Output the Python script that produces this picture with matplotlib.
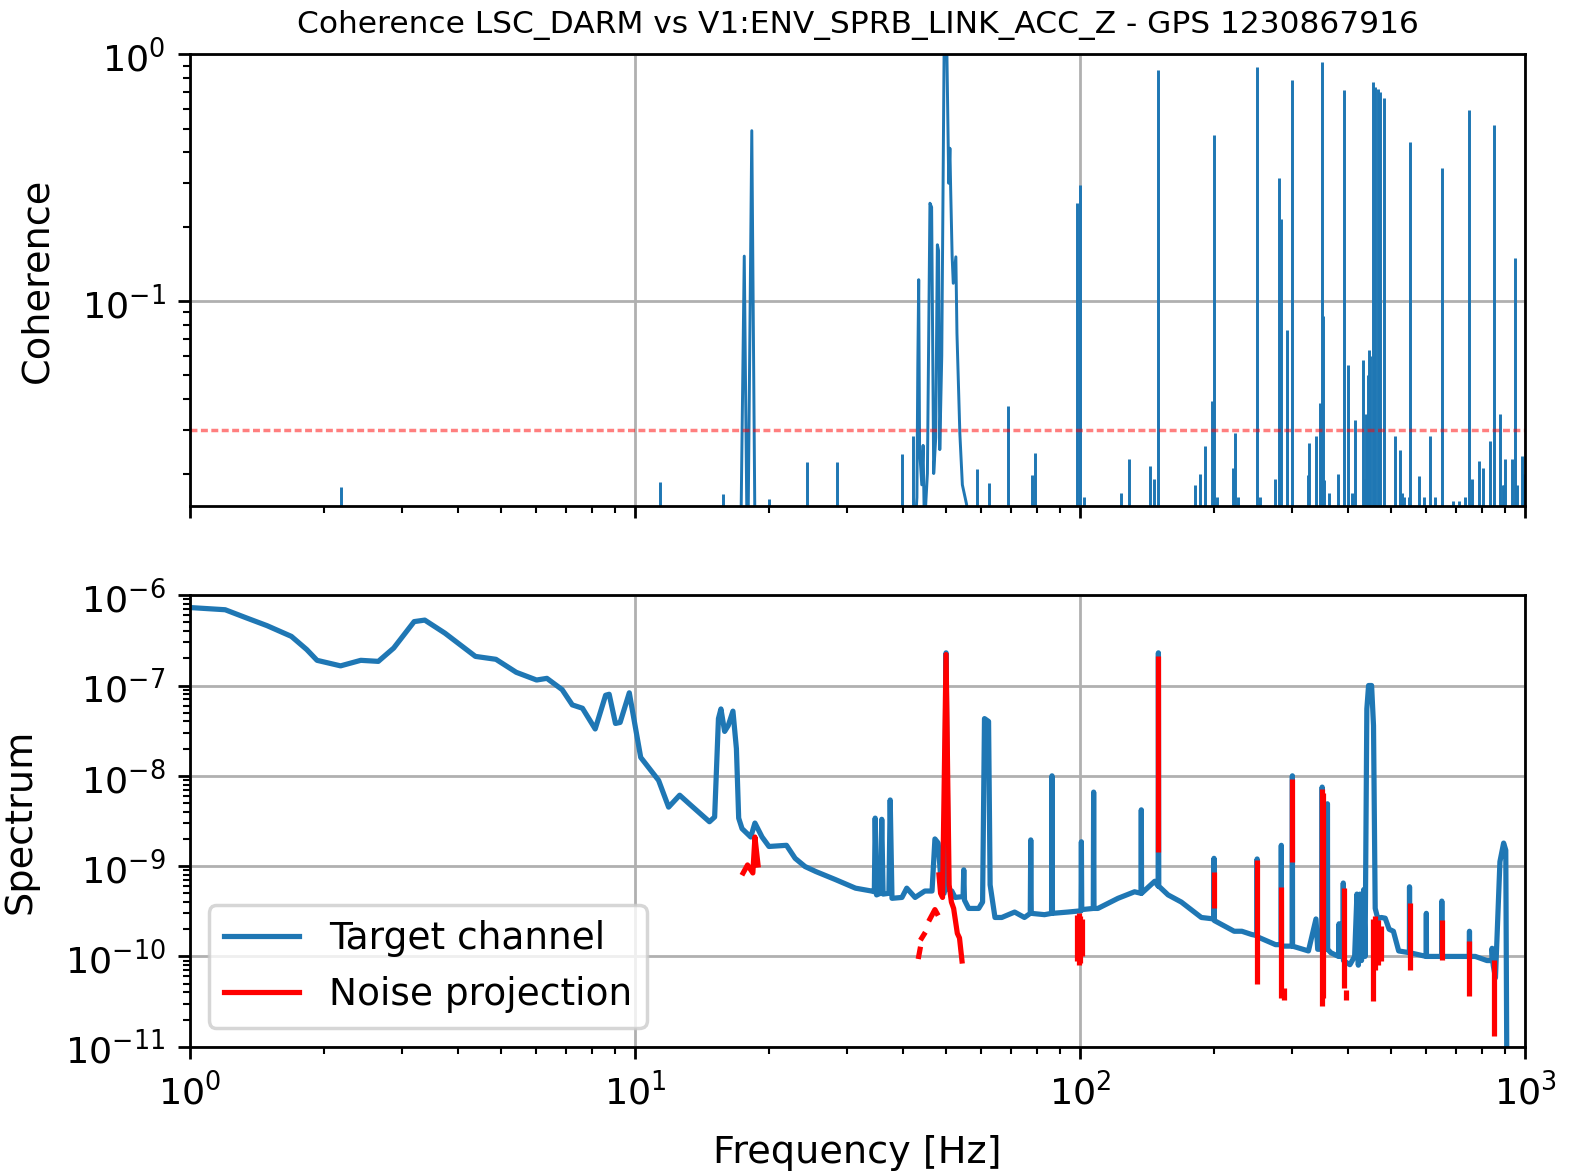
import numpy as np
import matplotlib.pyplot as plt

title = 'Coherence LSC_DARM vs V1:ENV_SPRB_LINK_ACC_Z - GPS 1230867916'
threshold = 0.03

# narrow coherence lines: frequency [Hz] and peak coherence
coh_line_freq = [2.18, 11.4, 15.8, 20.0, 24.3, 28.5, 39.8, 42.1, 58.8, 62.6,
                 68.8, 78.0, 79.3, 98.5, 100.2, 102.0, 123.8, 128.6, 143.3, 146.3,
                 150.0, 181.6, 186.3, 191.2, 198.0, 200.0, 203.0, 220.6, 223.2, 226.0,
                 250.0, 254.0, 274.7, 279.5, 282.5, 291.8, 300.0, 325.2, 326.5, 339.4,
                 346.4, 350.0, 352.0, 354.0, 362.0, 379.8, 391.0, 401.0, 408.0, 414.0,
                 431.3, 436.0, 440.0, 443.0, 446.4, 449.0, 455.5, 460.6, 467.0, 473.0,
                 481.0, 509.0, 524.0, 529.0, 535.0, 548.0, 550.0, 576.7, 594.0, 612.0,
                 628.0, 650.0, 690.0, 710.0, 734.0, 750.0, 758.0, 787.0, 805.0, 835.0,
                 850.0, 880.0, 890.0, 896.0, 903.0, 935.0, 950.0, 960.0, 985.0, 995.0]
coh_line_peak = [0.0176, 0.0184, 0.0165, 0.0158, 0.0223, 0.0223, 0.0239, 0.0283, 0.0208, 0.0183,
                 0.0375, 0.0198, 0.0243, 0.249, 0.296, 0.016, 0.0167, 0.0228, 0.0215, 0.019,
                 0.863, 0.018, 0.020, 0.0258, 0.0392, 0.471, 0.016, 0.021, 0.0292, 0.016,
                 0.89, 0.016, 0.019, 0.315, 0.215, 0.0766, 0.786, 0.0198, 0.0266, 0.0283,
                 0.0387, 0.933, 0.0866, 0.0189, 0.0167, 0.020, 0.716, 0.0552, 0.0167, 0.0331,
                 0.0577, 0.019, 0.035, 0.05, 0.0636, 0.06, 0.774, 0.74, 0.72, 0.70,
                 0.663, 0.0283, 0.025, 0.0167, 0.016, 0.016, 0.443, 0.0195, 0.016, 0.0283,
                 0.016, 0.345, 0.0155, 0.0155, 0.016, 0.594, 0.019, 0.0224, 0.021, 0.027,
                 0.517, 0.0347, 0.018, 0.018, 0.023, 0.023, 0.149, 0.018, 0.0236, 0.02]

# broader coherence features around 18 Hz and 50 Hz
coh_band_freq = [17.3, 17.6, 17.85, 17.95, 18.3, 18.6,
                 42.6, 43.0, 43.2, 43.4, 43.6, 44.1, 44.4, 44.7, 45.4, 46.0,
                 46.4, 46.9, 47.4, 47.8, 48.1, 48.4, 48.9, 49.5, 50.2, 50.7,
                 51.0, 51.2, 51.6, 51.9, 52.6, 52.9, 53.7, 54.4, 55.6, 56.2]
coh_band_val = [0.012, 0.152, 0.012, 0.012, 0.49, 0.012,
                0.012, 0.016, 0.054, 0.122, 0.025, 0.018, 0.026, 0.012, 0.02, 0.249,
                0.24, 0.02, 0.028, 0.169, 0.16, 0.025, 0.06, 1.05, 1.05, 0.3,
                0.416, 0.287, 0.151, 0.118, 0.151, 0.074, 0.029, 0.018, 0.015, 0.012]

# target channel spectrum
spec_freq = [1.00, 1.20, 1.34, 1.49, 1.69, 1.83, 1.93, 2.18, 2.42, 2.65,
             2.87, 3.19, 3.37, 3.74, 4.38, 4.87, 5.41, 6.01, 6.34, 6.86,
             7.23, 7.62, 8.14, 8.59, 8.75, 9.04, 9.26, 9.71, 10.3, 11.3,
             11.9, 12.6, 13.3, 14.7, 15.1, 15.4, 15.6, 15.9, 16.2, 16.6,
             16.9, 17.1, 17.4, 18.2, 18.6, 19.3, 20.0, 21.9, 22.9, 24.1,
             25.5, 28.2, 31.3, 34.0, 34.5, 34.65, 34.9, 35.6, 35.85, 36.1,
             37.2, 37.45, 37.8, 39.8, 40.8, 42.6, 44.8, 46.5, 47.2, 48.0,
             48.8, 49.5, 50.0, 50.6, 51.5, 52.4, 54.6, 54.8, 55.0, 56.2,
             59.2, 60.4, 61.0, 62.3, 62.8, 64.4, 66.7, 71.3, 75.0, 77.3,
             77.5, 77.7, 83.2, 86.3, 86.5, 86.7, 93.9, 100.5, 100.7, 100.9,
             107.1, 107.3, 107.5, 109.7, 121.7, 132.6, 137.1, 137.3, 137.5, 147.2,
             149.8, 150.0, 150.3, 157.7, 168.9, 187.3, 199.8, 200.0, 200.2, 222.0,
             231.0, 243.0, 249.8, 250.0, 250.3, 275.0, 283.0, 283.3, 283.6, 299.7,
             300.0, 300.3, 326.0, 339.0, 342.0, 349.7, 350.0, 350.4, 359.4, 359.7,
             360.1, 366.0, 381.0, 382.0, 383.0, 390.0, 390.4, 390.8, 404.0, 414.0,
             419.0, 422.0, 426.0, 429.0, 434.0, 437.0, 441.0, 445.0, 452.0, 456.5,
             460.5, 467.0, 475.0, 485.0, 495.0, 506.0, 520.0, 549.6, 550.0, 550.4,
             599.6, 600.0, 600.4, 649.6, 650.0, 650.4, 709.0, 749.6, 750.0, 750.4,
             773.0, 821.0, 842.0, 843.0, 848.0, 858.0, 878.0, 895.0, 905.0, 910.0]
spec_val = [7.3e-7, 6.9e-7, 5.6e-7, 4.6e-7, 3.5e-7, 2.5e-7, 1.9e-7, 1.65e-7, 1.9e-7, 1.85e-7,
            2.6e-7, 5.1e-7, 5.3e-7, 3.8e-7, 2.1e-7, 1.95e-7, 1.4e-7, 1.15e-7, 1.2e-7, 9.0e-8,
            6.1e-8, 5.6e-8, 3.3e-8, 7.8e-8, 8.0e-8, 3.8e-8, 3.9e-8, 8.3e-8, 1.6e-8, 8.9e-9,
            4.5e-9, 6.1e-9, 4.8e-9, 3.1e-9, 3.5e-9, 4.3e-8, 5.5e-8, 3.1e-8, 3.6e-8, 5.2e-8,
            2.0e-8, 3.4e-9, 2.6e-9, 2.1e-9, 3.0e-9, 2.1e-9, 1.65e-9, 1.7e-9, 1.22e-9, 9.9e-10,
            8.7e-10, 7.1e-10, 5.7e-10, 5.3e-10, 5.2e-10, 3.4e-9, 4.8e-10, 5.0e-10, 3.3e-9, 4.9e-10,
            5.0e-10, 5.4e-9, 4.4e-10, 4.5e-10, 5.7e-10, 4.5e-10, 5.3e-10, 5.3e-10, 2.0e-9, 1.8e-9,
            6.0e-10, 5.0e-10, 2.3e-7, 5.5e-10, 5.3e-10, 4.5e-10, 4.6e-10, 9.1e-10, 4.2e-10, 3.4e-10,
            3.4e-10, 4.0e-10, 4.3e-8, 4.0e-8, 6.2e-10, 2.7e-10, 2.7e-10, 3.1e-10, 2.7e-10, 3.0e-10,
            1.95e-9, 3.0e-10, 2.9e-10, 3.0e-10, 1.0e-8, 3.0e-10, 3.1e-10, 3.2e-10, 1.86e-9, 3.3e-10,
            3.4e-10, 6.6e-9, 3.4e-10, 3.4e-10, 4.4e-10, 5.2e-10, 5.0e-10, 4.2e-9, 5.0e-10, 6.8e-10,
            6.0e-10, 2.3e-7, 6.0e-10, 4.8e-10, 4.0e-10, 2.7e-10, 2.6e-10, 1.22e-9, 2.5e-10, 1.9e-10,
            1.9e-10, 1.75e-10, 1.7e-10, 1.2e-9, 1.65e-10, 1.35e-10, 1.35e-10, 1.7e-9, 1.3e-10, 1.3e-10,
            1.0e-8, 1.3e-10, 1.15e-10, 2.6e-10, 1.2e-10, 1.2e-10, 7.5e-9, 1.2e-10, 1.2e-10, 4.9e-9,
            1.2e-10, 1.1e-10, 1.0e-10, 2.3e-10, 1.0e-10, 1.0e-10, 6.5e-10, 9.0e-11, 8.1e-11, 1.0e-10,
            4.9e-10, 8.0e-11, 4.9e-10, 9.0e-11, 5.5e-10, 1.0e-10, 5.5e-8, 1.0e-7, 1.0e-7, 3.6e-8,
            3.4e-10, 2.6e-10, 2.7e-10, 2.65e-10, 2.0e-10, 1.9e-10, 1.15e-10, 1.1e-10, 5.9e-10, 1.1e-10,
            1.0e-10, 3.0e-10, 1.0e-10, 1.0e-10, 4.1e-10, 1.0e-10, 1.0e-10, 1.0e-10, 1.9e-10, 1.0e-10,
            1.0e-10, 9.0e-11, 9.0e-11, 1.23e-10, 8.0e-11, 5.8e-11, 1.12e-9, 1.8e-9, 1.5e-9, 5.0e-12]

# noise projection around 18 Hz and 50 Hz (nan = gap in the estimate)
proj_freq = [17.5, 17.9, 18.4, 18.6, 18.9, np.nan,
             43.4, 43.7, np.nan, 44.1, 44.6, np.nan, 46.0, 47.2, 47.7, np.nan,
             48.2, 48.6, 49.1, 50.0, 50.8, 51.4, 52.0, 53.0, 53.6, 54.3]
proj_val = [8.4e-10, 1.03e-9, 8.4e-10, 2.1e-9, 1.03e-9, np.nan,
            1.0e-10, 1.2e-10, np.nan, 1.6e-10, 1.75e-10, np.nan, 2.6e-10, 3.3e-10, 3.0e-10, np.nan,
            8.0e-10, 5.0e-10, 4.5e-10, 2.2e-7, 6.2e-10, 4.0e-10, 3.4e-10, 1.8e-10, 1.6e-10, 8.9e-11]

# noise projection on the narrow lines: frequency, lower and upper value
proj_line_freq = [98.5, 99.3, 100.0, 100.8, 150.0, 200.0, 250.0, 283.0, 287.0, 300.0,
                  349.0, 351.0, 391.0, 395.0, 456.0, 461.0, 467.0, 474.0, 550.0, 650.0,
                  750.0, 850.0]
proj_line_lo = [9.0e-11, 8.1e-11, 8.5e-11, 1.0e-10, 1.45e-9, 3.4e-10, 4.9e-11, 3.5e-11, 3.3e-11, 1.12e-9,
                2.8e-11, 3.5e-11, 4.5e-11, 3.3e-11, 3.2e-11, 7.0e-11, 8.0e-11, 9.0e-11, 7.1e-11, 9.1e-11,
                3.6e-11, 1.3e-11]
proj_line_hi = [2.9e-10, 3.0e-10, 2.8e-10, 2.6e-10, 2.1e-7, 8.7e-10, 1.17e-9, 5.9e-10, 4.5e-11, 9.3e-9,
                7.2e-9, 6.5e-9, 5.7e-10, 4.3e-11, 2.6e-10, 2.8e-10, 2.5e-10, 2.2e-10, 3.9e-10, 2.5e-10,
                1.5e-10, 9.1e-11]

blue = '#1f77b4'

fig, (ax1, ax2) = plt.subplots(2, 1, sharex=True, figsize=(6.3, 4.696), dpi=250)
fig.subplots_adjust(left=0.1206, right=0.9683, top=0.9538, bottom=0.1084, hspace=0.198)

# coherence
ax1.vlines(coh_line_freq, 0.01, coh_line_peak, color=blue, lw=0.85)
ax1.plot(coh_band_freq, coh_band_val, color=blue, lw=0.85)
ax1.axhline(threshold, color='r', lw=1.0, alpha=0.5, dashes=(2, 1))
ax1.set_xscale('log')
ax1.set_yscale('log')
ax1.set_ylim(0.0148, 1)
ax1.set_ylabel('Coherence', fontsize=11, labelpad=7.5)
ax1.set_title(title, fontsize=9.0)
ax1.grid(True)
ax1.tick_params(labelsize=10.5)

# spectrum and noise projection
ax2.plot(spec_freq, spec_val, color=blue, lw=1.5, label='Target channel')
ax2.plot(proj_freq, proj_val, color='r', lw=1.5, label='Noise projection')
ax2.vlines(proj_line_freq, proj_line_lo, proj_line_hi, color='r', lw=1.5)
ax2.set_yscale('log')
ax2.set_xlim(1, 1000)
ax2.set_ylim(1e-11, 1e-6)
ax2.set_xlabel('Frequency [Hz]', fontsize=11, labelpad=7)
ax2.set_ylabel('Spectrum', fontsize=11, labelpad=7.5)
ax2.grid(True)
ax2.tick_params(labelsize=10.5)
ax2.legend(loc='lower left', fontsize=10.8)

fig.savefig('out.png')
